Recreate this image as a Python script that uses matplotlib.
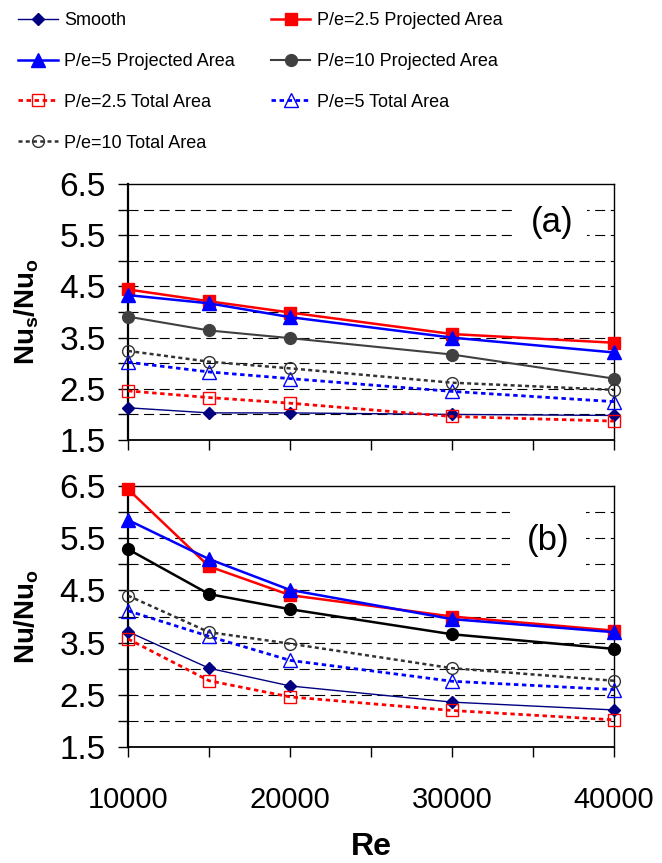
import matplotlib
matplotlib.use("Agg")
import matplotlib.pyplot as plt

plt.rcParams['font.family'] = ['Liberation Sans', 'DejaVu Sans']
plt.rcParams['mathtext.fontset'] = 'custom'
plt.rcParams['mathtext.rm'] = 'Liberation Sans'
plt.rcParams['mathtext.bf'] = 'Liberation Sans:bold'
plt.rcParams['mathtext.it'] = 'Liberation Sans:italic'

# Reynolds numbers
re_vals = [10000, 15000, 20000, 30000, 40000]

# (a) Nu_s/Nu_o
a_smooth = [2.13, 2.03, 2.03, 2.00, 1.98]
a_p25_proj = [4.44, 4.21, 3.99, 3.57, 3.40]
a_p5_proj = [4.33, 4.17, 3.90, 3.50, 3.21]
a_p10_proj = [3.91, 3.64, 3.49, 3.17, 2.70]
a_p25_tot = [2.46, 2.33, 2.22, 1.96, 1.87]
a_p5_tot = [3.02, 2.83, 2.70, 2.45, 2.25]
a_p10_tot = [3.24, 3.03, 2.90, 2.62, 2.48]

# (b) Nu/Nu_o
b_smooth = [3.71, 3.01, 2.67, 2.36, 2.21]
b_p25_proj = [6.44, 4.96, 4.41, 4.00, 3.73]
b_p5_proj = [5.85, 5.10, 4.51, 3.95, 3.70]
b_p10_proj = [5.29, 4.43, 4.14, 3.66, 3.38]
b_p25_tot = [3.57, 2.77, 2.46, 2.20, 2.02]
b_p5_tot = [4.11, 3.62, 3.16, 2.76, 2.60]
b_p10_tot = [4.40, 3.70, 3.48, 3.01, 2.77]

labels = ["Smooth", "P/e=2.5 Projected Area", "P/e=5 Projected Area",
          "P/e=10 Projected Area", "P/e=2.5 Total Area", "P/e=5 Total Area",
          "P/e=10 Total Area"]

dot = (0, (1.6, 1.3))


def draw_series(ax, data, p10_color):
    styles = [
        dict(color='#000080', lw=1.0, marker='D', ms=6.5, mfc='#000080', mec='#000080'),
        dict(color='red', lw=1.8, marker='s', ms=8.5, mfc='red', mec='red'),
        dict(color='blue', lw=1.8, marker='^', ms=9.5, mfc='blue', mec='blue'),
        dict(color=p10_color, lw=1.5 if p10_color != 'black' else 1.8, marker='o', ms=8.5,
             mfc=p10_color, mec=p10_color),
        dict(color='red', lw=2.0, ls=dot, marker='s', ms=8.5, mfc='none', mec='red', mew=1.0),
        dict(color='blue', lw=2.0, ls=dot, marker='^', ms=9.5, mfc='none', mec='blue', mew=1.0),
        dict(color='#333333', lw=1.8, ls=dot, marker='o', ms=8.5, mfc='none', mec='#333333', mew=1.0),
    ]
    handles = []
    for ys, lab, st in zip(data, labels, styles):
        h, = ax.plot(re_vals, ys, label=lab, clip_on=False, zorder=3, **st)
        handles.append(h)
    return handles


def style_axes(ax, show_x):
    ax.set_xlim(10000, 40000)
    ax.set_ylim(1.5, 6.5)
    yt = [1.5 + 0.5 * i for i in range(11)]
    ax.set_yticks(yt)
    ax.set_yticklabels([f"{v:.1f}" if i % 2 == 0 else "" for i, v in enumerate(yt)], fontsize=24)
    ax.set_xticks([10000, 15000, 20000, 25000, 30000, 35000, 40000])
    if show_x:
        ax.set_xticklabels(["10000", "", "20000", "", "30000", "", "40000"], fontsize=21)
    else:
        ax.set_xticklabels([])
    ax.tick_params(direction='out', length=7, width=1, color='black')
    ax.tick_params(axis='y', pad=9)
    ax.tick_params(axis='x', pad=21)
    for y in yt[1:-1]:
        ax.axhline(y, color='black', lw=0.8, ls=(0, (9, 5)), zorder=1)
    for s in ax.spines.values():
        s.set_linewidth(1.0)
        s.set_color('black')
    ax.spines['left'].set_linewidth(1.6)
    ax.spines['bottom'].set_linewidth(1.3)


fig = plt.figure(figsize=(6.62, 8.63), dpi=100)
ax1 = fig.add_axes([0.1934, 0.4901, 0.7341, 0.2967])
ax2 = fig.add_axes([0.1934, 0.1344, 0.7341, 0.3024])

h1 = draw_series(ax1, [a_smooth, a_p25_proj, a_p5_proj, a_p10_proj, a_p25_tot, a_p5_tot, a_p10_tot], '#404040')
draw_series(ax2, [b_smooth, b_p25_proj, b_p5_proj, b_p10_proj, b_p25_tot, b_p5_tot, b_p10_tot], 'black')

style_axes(ax1, False)
style_axes(ax2, True)

ax1.set_ylabel(r'$\mathbf{Nu_s/Nu_o}$', fontsize=20)
ax1.yaxis.set_label_coords(-0.179, 0.5)
ax2.set_ylabel(r'$\mathbf{Nu/Nu_o}$', fontsize=20)
ax2.yaxis.set_label_coords(-0.179, 0.5)
ax2.set_xlabel('Re', fontsize=23, fontweight='bold', labelpad=13)

ax1.text(0.872, 0.848, '(a)', transform=ax1.transAxes, fontsize=25, ha='center', va='center',
         bbox=dict(facecolor='white', edgecolor='none', pad=10), zorder=4)
ax2.text(0.864, 0.793, '(b)', transform=ax2.transAxes, fontsize=25, ha='center', va='center',
         bbox=dict(facecolor='white', edgecolor='none', pad=12), zorder=4)

order = [0, 2, 4, 6, 1, 3, 5]
fig.legend([h1[i] for i in order], [labels[i] for i in order], ncol=2, loc='upper left',
           bbox_to_anchor=(0.027, 0.986), frameon=False, fontsize=13, borderpad=0,
           borderaxespad=0, handlelength=2.2, handletextpad=0.35, labelspacing=1.32,
           columnspacing=2.0, numpoints=1)

fig.savefig('out.png', dpi=100)
